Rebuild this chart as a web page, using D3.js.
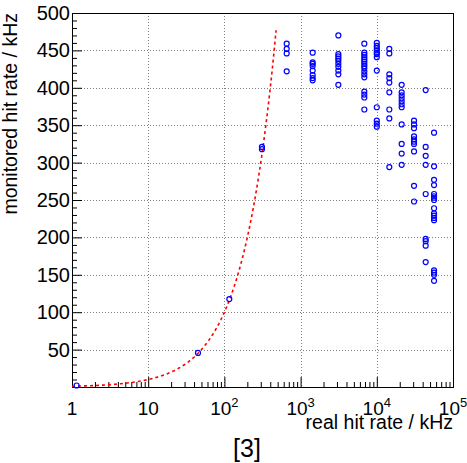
<!DOCTYPE html>
<html>
<head>
<meta charset="utf-8">
<script src="https://cdn.jsdelivr.net/npm/d3@7"></script>
<style>
  body { margin: 0; background: #fff; }
  text { font-family: "Liberation Sans", Arial, sans-serif; fill: #000; }
</style>
</head>
<body>
<div id="plot"></div>
<script>
// Data: columns of real hit rate (kHz) with monitored rates
var lowRate = [1.15, 45, 116, 311, 311];
var lowMon = [2, 45.5, 117.5, 321, 318];

var colRate = [657, 1440, 3130, 6860, 10000, 14600, 21200, 30800, 43800, 56400];
var colMon = [
    [459, 452, 446, 422],
    [447, 434, 432, 429, 423, 417, 413, 410],
    [470, 445, 442, 439, 436, 432, 428, 423, 418, 404],
    [459, 447, 444, 441, 438, 435, 432, 429, 426, 422, 418, 414, 395, 391, 387, 371],
    [460, 456, 453, 450, 447, 445, 441, 423, 374, 356, 352, 348],
    [452, 446, 418, 413, 407, 394, 371, 359, 294],
    [404, 394, 390, 386, 382, 378, 374, 351, 325, 312, 297],
    [356, 351, 346, 335, 331, 328, 325, 315, 269, 248],
    [397, 321, 309, 297, 258, 198, 195, 189, 167],
    [340, 295, 277, 270, 258, 255, 253, 250, 239, 232, 229, 226, 223, 156, 153, 150, 142]
];

// ideal response curve (monitored = real), drawn up to this rate
var curveRange = [1, 477];
var xTicks = [1, 10, 100, 1000, 10000, 100000];
var yTicks = [50, 100, 150, 200, 250, 300, 350, 400, 450, 500];

var W = 467, H = 463;
var padL = 72, padR = 453, padT = 13, padB = 387;

var svg = d3.select("#plot").append("svg")
    .attr("width", W)
    .attr("height", H)
    .style("background", "#fff");

var x = d3.scaleLog().domain([1, 1e5]).range([padL, padR]);
var y = d3.scaleLinear().domain([0, 500]).range([padB, padT]);

// grid
var grid = svg.append("g")
    .attr("stroke", "#808080")
    .attr("stroke-width", 1)
    .attr("stroke-dasharray", "1,2");
grid.selectAll(".gx").data(xTicks.slice(1, -1)).enter().append("line")
    .attr("x1", d => Math.round(x(d)) + 0.5).attr("x2", d => Math.round(x(d)) + 0.5)
    .attr("y1", padT).attr("y2", padB);
grid.selectAll(".gy").data(yTicks).enter().append("line")
    .attr("x1", padL).attr("x2", padR)
    .attr("y1", d => Math.round(y(d)) + 0.5).attr("y2", d => Math.round(y(d)) + 0.5);

// axes (ROOT style ticks inside the frame)
var xAxis = d3.axisTop(x)
    .tickValues(d3.range(0, 5).flatMap(e => d3.range(1, 10).map(m => m * Math.pow(10, e))).concat([1e5]))
    .tickSize(0)
    .tickFormat("");
var gx = svg.append("g").attr("transform", "translate(0," + padB + ")").call(xAxis);
gx.select(".domain").remove();
gx.selectAll(".tick line")
    .attr("y2", d => -(xTicks.indexOf(d) >= 0 ? 10 : 5))
    .attr("stroke", "#000");

var yAxis = d3.axisRight(y)
    .tickValues(d3.range(0, 501, 10))
    .tickSize(0)
    .tickFormat("");
var gy = svg.append("g").attr("transform", "translate(" + padL + ",0)").call(yAxis);
gy.select(".domain").remove();
gy.selectAll(".tick line")
    .attr("x2", d => (d % 50 === 0 ? 10 : 5))
    .attr("stroke", "#000");

// frame
svg.append("rect")
    .attr("x", padL + 0.5).attr("y", padT + 0.5)
    .attr("width", padR - padL).attr("height", padB - padT)
    .attr("fill", "none").attr("stroke", "#000").attr("stroke-width", 1);

// tick labels
svg.selectAll(".ylab").data(yTicks).enter().append("text")
    .attr("x", padL - 2)
    .attr("y", d => y(d) + 7)
    .attr("text-anchor", "end")
    .style("font-size", "20px")
    .text(d => d);

var xl = svg.selectAll(".xlab").data(xTicks).enter().append("text")
    .attr("x", d => x(d))
    .attr("y", padB + 28)
    .attr("text-anchor", "middle")
    .style("font-size", "19px");
xl.each(function(d) {
    var e = Math.round(Math.log10(d));
    var t = d3.select(this);
    if (e < 2) {
        t.text(d);
    } else {
        t.append("tspan").text("10");
        t.append("tspan").attr("dy", -8).style("font-size", "13px").text(e);
    }
});

// axis titles
svg.append("text")
    .attr("x", padR)
    .attr("y", padB + 42)
    .attr("text-anchor", "end")
    .style("font-size", "19.5px")
    .text("real hit rate / kHz");

svg.append("text")
    .attr("transform", "translate(17," + padT + ") rotate(-90)")
    .attr("text-anchor", "end")
    .style("font-size", "19.5px")
    .text("monitored hit rate / kHz");

svg.append("text")
    .attr("x", 247)
    .attr("y", 457)
    .attr("text-anchor", "middle")
    .style("font-size", "25px")
    .text("[3]");

// ideal curve, sampled evenly in log space
var curvePts = d3.range(0, 101).map(i => curveRange[0] * Math.pow(curveRange[1] / curveRange[0], i / 100));
svg.append("path")
    .datum(curvePts)
    .attr("fill", "none")
    .attr("stroke", "#ff0000")
    .attr("stroke-width", 1.6)
    .attr("stroke-dasharray", "3,3")
    .attr("d", d3.line().x(d => x(d)).y(d => y(d)));

// points
var pts = lowRate.map((r, i) => ({ r: r, m: lowMon[i] }));
colRate.forEach((r, i) => colMon[i].forEach(m => pts.push({ r: r, m: m })));

svg.selectAll("circle").data(pts).enter().append("circle")
    .attr("cx", d => x(d.r))
    .attr("cy", d => y(d.m))
    .attr("r", 2.5)
    .attr("fill", "none")
    .attr("stroke", "#0000ff")
    .attr("stroke-width", 1.2);
</script>
</body>
</html>
